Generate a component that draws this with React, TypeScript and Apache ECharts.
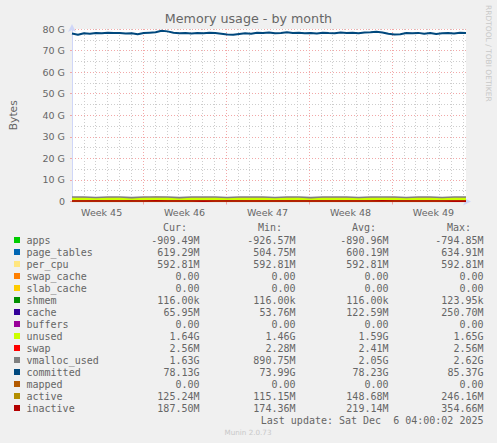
import React, { useEffect, useRef } from 'react';
import * as echarts from 'echarts';

// ============================================================
// Data (values in G, time in days from the left edge)
// ============================================================

const SPAN_DAYS = 33.25;

const WEEK_LABELS = ['Week 45', 'Week 46', 'Week 47', 'Week 48', 'Week 49'];
const WEEK_LABEL_DAYS = [2.5, 9.5, 16.5, 23.5, 30.5];
const WEEK_START_DAYS = [6, 13, 20, 27];

// daily samples (34 points)
const APPS = [
  -0.88, -0.89, -0.9, -0.87, -0.89, -0.91, -0.88, -0.8, -0.86, -0.9,
  -0.89, -0.92, -0.88, -0.85, -0.9, -0.89, -0.91, -0.88, -0.9, -0.87,
  -0.89, -0.92, -0.9, -0.88, -0.89, -0.91, -0.86, -0.93, -0.9, -0.89,
  -0.91, -0.9, -0.89, -0.91,
];
const PAGE_TABLES = [
  0.6, 0.61, 0.59, 0.62, 0.6, 0.58, 0.61, 0.63, 0.6, 0.59,
  0.61, 0.6, 0.62, 0.51, 0.58, 0.6, 0.61, 0.6, 0.59, 0.62,
  0.6, 0.61, 0.6, 0.59, 0.61, 0.6, 0.62, 0.55, 0.59, 0.6,
  0.61, 0.6, 0.62, 0.62,
];
const PER_CPU = [
  0.593, 0.593, 0.593, 0.593, 0.593, 0.593, 0.593, 0.593, 0.593, 0.593,
  0.593, 0.593, 0.593, 0.593, 0.593, 0.593, 0.593, 0.593, 0.593, 0.593,
  0.593, 0.593, 0.593, 0.593, 0.593, 0.593, 0.593, 0.593, 0.593, 0.593,
  0.593, 0.593, 0.593, 0.593,
];
const ZERO = [
  0, 0, 0, 0, 0, 0, 0, 0, 0, 0,
  0, 0, 0, 0, 0, 0, 0, 0, 0, 0,
  0, 0, 0, 0, 0, 0, 0, 0, 0, 0,
  0, 0, 0, 0,
];
const SHMEM = [
  0.000116, 0.000116, 0.000116, 0.000116, 0.000116, 0.000116, 0.000116, 0.000124, 0.000116, 0.000116,
  0.000116, 0.000116, 0.000116, 0.000116, 0.000116, 0.000116, 0.000116, 0.000116, 0.000116, 0.000116,
  0.000116, 0.000116, 0.000116, 0.000116, 0.000116, 0.000116, 0.000116, 0.000116, 0.000116, 0.000116,
  0.000116, 0.000116, 0.000116, 0.000116,
];
const CACHE = [
  0.12, 0.1, 0.14, 0.09, 0.13, 0.18, 0.11, 0.25, 0.15, 0.1,
  0.12, 0.08, 0.13, 0.16, 0.11, 0.09, 0.14, 0.12, 0.1, 0.13,
  0.17, 0.11, 0.09, 0.12, 0.14, 0.1, 0.22, 0.13, 0.11, 0.08,
  0.12, 0.1, 0.07, 0.066,
];
const UNUSED = [
  1.6, 1.58, 1.61, 1.57, 1.6, 1.55, 1.59, 1.48, 1.57, 1.62,
  1.59, 1.61, 1.58, 1.63, 1.6, 1.62, 1.58, 1.6, 1.61, 1.59,
  1.56, 1.6, 1.62, 1.6, 1.58, 1.61, 1.5, 1.62, 1.6, 1.63,
  1.6, 1.62, 1.64, 1.64,
];
const SWAP = [
  0.0023, 0.0023, 0.0024, 0.0024, 0.0024, 0.0024, 0.0024, 0.0024, 0.0024, 0.0024,
  0.0024, 0.0024, 0.0024, 0.0024, 0.0024, 0.0024, 0.0024, 0.0024, 0.0024, 0.0024,
  0.0024, 0.0024, 0.0024, 0.0024, 0.0025, 0.0025, 0.0025, 0.0025, 0.0025, 0.0025,
  0.0025, 0.0025, 0.0026, 0.0026,
];
const VMALLOC_USED = [
  2.1, 2.08, 1.85, 2.1, 2.12, 1.8, 2.09, 2.11, 2.1, 1.78,
  2.12, 2.08, 2.1, 1.82, 2.11, 2.1, 2.09, 1.85, 2.1, 2.12,
  1.8, 2.11, 2.09, 2.1, 1.83, 2.12, 2.1, 2.08, 1.86, 2.1,
  2.11, 1.84, 2.1, 2.08,
];
const ACTIVE = [
  0.14, 0.15, 0.13, 0.16, 0.14, 0.15, 0.13, 0.25, 0.17, 0.14,
  0.15, 0.13, 0.16, 0.15, 0.14, 0.13, 0.15, 0.14, 0.16, 0.15,
  0.14, 0.13, 0.15, 0.16, 0.14, 0.15, 0.21, 0.14, 0.13, 0.15,
  0.14, 0.13, 0.13, 0.125,
];
const INACTIVE = [
  0.21, 0.22, 0.2, 0.23, 0.21, 0.22, 0.2, 0.35, 0.25, 0.21,
  0.22, 0.19, 0.23, 0.22, 0.21, 0.2, 0.22, 0.21, 0.24, 0.22,
  0.21, 0.2, 0.22, 0.23, 0.21, 0.22, 0.3, 0.21, 0.2, 0.22,
  0.21, 0.2, 0.19, 0.19,
];

// half-day samples (67 points)
const COMMITTED = [
  77.9, 77.3, 78.0, 77.8, 78.1, 78.0, 78.3, 78.1, 78.2, 77.9,
  78.0, 77.6, 78.1, 78.3, 78.5, 79.2, 78.9, 78.3, 78.0, 78.2,
  77.9, 78.1, 78.0, 78.3, 78.1, 77.8, 77.5, 77.3, 77.7, 78.0,
  77.8, 78.3, 78.1, 78.4, 78.0, 78.2, 78.5, 78.1, 78.3, 78.0,
  78.2, 77.9, 78.3, 78.1, 78.0, 78.4, 78.2, 78.3, 78.0, 78.4,
  78.5, 78.7, 78.4, 77.8, 77.4, 77.6, 78.1, 78.0, 78.2, 77.8,
  78.1, 77.7, 78.0, 78.2, 77.9, 78.3, 78.1,
];

// legend table
const NAMES = [
  'apps', 'page_tables', 'per_cpu', 'swap_cache', 'slab_cache', 'shmem', 'cache', 'buffers',
  'unused', 'swap', 'vmalloc_used', 'committed', 'mapped', 'active', 'inactive',
];
const COLORS = [
  '#00CC00', '#0066B3', '#FFE680', '#FF8000', '#FFCC00', '#008F00', '#330099', '#990099',
  '#CCFF00', '#FF0000', '#808080', '#00487D', '#B35A00', '#B38F00', '#B30000',
];
const CUR = [
  '-909.49M', '619.29M', '592.81M', '0.00', '0.00', '116.00k', '65.95M', '0.00',
  '1.64G', '2.56M', '1.63G', '78.13G', '0.00', '125.24M', '187.50M',
];
const MIN = [
  '-926.57M', '504.75M', '592.81M', '0.00', '0.00', '116.00k', '53.76M', '0.00',
  '1.46G', '2.28M', '890.75M', '73.99G', '0.00', '115.15M', '174.36M',
];
const AVG = [
  '-890.96M', '600.19M', '592.81M', '0.00', '0.00', '116.00k', '122.59M', '0.00',
  '1.59G', '2.41M', '2.05G', '78.23G', '0.00', '148.68M', '219.14M',
];
const MAX = [
  '-794.85M', '634.91M', '592.81M', '0.00', '0.00', '123.95k', '250.70M', '0.00',
  '1.65G', '2.56M', '2.62G', '85.37G', '0.00', '246.16M', '354.66M',
];
const HEADERS = ['Cur:', 'Min:', 'Avg:', 'Max:'];

// stacked (AREA + STACK) in drawing order, then plain lines
const STACK_VALUES = [APPS, PAGE_TABLES, PER_CPU, ZERO, ZERO, SHMEM, CACHE, ZERO, UNUSED, SWAP];
const LINE_VALUES: Record<string, number[]> = {
  vmalloc_used: VMALLOC_USED,
  mapped: ZERO,
  active: ACTIVE,
  inactive: INACTIVE,
};

// ============================================================
// Helpers
// ============================================================

const DAILY_TIMES = Array.from({ length: APPS.length }, (_, i) => (i * SPAN_DAYS) / (APPS.length - 1));
const HALF_DAY_TIMES = Array.from({ length: COMMITTED.length }, (_, i) => (i * SPAN_DAYS) / (COMMITTED.length - 1));

const pairs = (times: number[], values: number[]) => values.map((v, i) => [times[i], v]);

const FONT = 'DejaVu Sans';
const MONO = 'DejaVu Sans Mono';
const TEXT = '#666666';
const MGRID = '#F2A8A8';
const GRID = '#CDCDCD';

const buildOption = (): echarts.EChartsOption => {
  // slots of a quarter day for the week grid / labels
  const slots = Array.from({ length: SPAN_DAYS * 4 + 1 }, (_, i) => String(i));
  const labelSlots = WEEK_LABEL_DAYS.map((d) => d * 4);
  const weekSlots = WEEK_START_DAYS.map((d) => d * 4);

  // cumulative stack, drawn top-down so each lower band covers the rest
  const cumulative: number[][] = [];
  STACK_VALUES.forEach((vals, k) => {
    cumulative.push(vals.map((v, i) => v + (k > 0 ? cumulative[k - 1][i] : 0)));
  });
  const areaSeries: any[] = [];
  for (let k = STACK_VALUES.length - 1; k >= 0; k--) {
    areaSeries.push({
      name: NAMES[k],
      type: 'line',
      xAxisIndex: 0,
      data: pairs(DAILY_TIMES, cumulative[k]),
      symbol: 'none',
      lineStyle: { width: 0 },
      areaStyle: { color: COLORS[k], opacity: 1 },
    });
  }

  const lineSeries: any[] = Object.keys(LINE_VALUES).map((name) => ({
    name,
    type: 'line',
    xAxisIndex: 0,
    data: pairs(DAILY_TIMES, LINE_VALUES[name]),
    symbol: 'none',
    lineStyle: { color: COLORS[NAMES.indexOf(name)], width: 1.6 },
  }));
  lineSeries.splice(1, 0, {
    name: 'committed',
    type: 'line',
    xAxisIndex: 0,
    data: pairs(HALF_DAY_TIMES, COMMITTED),
    symbol: 'none',
    lineStyle: { color: COLORS[NAMES.indexOf('committed')], width: 2 },
  });

  // legend table
  const graphic: any[] = [];
  const colRight = [199.5, 295.5, 388.5, 483.5];
  const headLeft = [163, 258, 352, 447];
  HEADERS.forEach((h, c) => {
    graphic.push({
      type: 'text',
      style: { text: h, x: headLeft[c], y: 227, font: `10px "${MONO}"`, fill: TEXT, verticalAlign: 'middle' },
    });
  });
  NAMES.forEach((name, r) => {
    const y = 240 + r * 12;
    graphic.push({ type: 'rect', shape: { x: 14, y: y - 3, width: 6, height: 6 }, style: { fill: COLORS[r] } });
    graphic.push({
      type: 'text',
      style: { text: name, x: 26.5, y, font: `10px "${MONO}"`, fill: TEXT, verticalAlign: 'middle' },
    });
    [CUR, MIN, AVG, MAX].forEach((col, c) => {
      graphic.push({
        type: 'text',
        style: { text: col[r], x: colRight[c], y, font: `10px "${MONO}"`, fill: TEXT, align: 'right', verticalAlign: 'middle' },
      });
    });
  });
  graphic.push({
    type: 'text',
    style: {
      text: 'Last update: Sat Dec  6 04:00:02 2025',
      x: 483.5, y: 420, font: `10px "${MONO}"`, fill: TEXT, align: 'right', verticalAlign: 'middle',
    },
  });
  graphic.push({
    type: 'text',
    style: { text: 'Munin 2.0.73', x: 248, y: 432, font: `7.2px "${FONT}"`, fill: '#C8C8C8', align: 'center', verticalAlign: 'middle' },
  });
  graphic.push({
    type: 'text',
    x: 488,
    y: 5,
    rotation: -Math.PI / 2,
    style: { text: 'RRDTOOL / TOBI OETIKER', x: 0, y: 0, font: `7.5px "${FONT}"`, fill: '#C8C8C8', align: 'left', verticalAlign: 'middle' },
  });

  return {
    animation: false,
    backgroundColor: '#F0F0F0',
    title: {
      text: 'Memory usage - by month',
      left: 'center',
      top: 12,
      padding: 0,
      textStyle: { fontFamily: FONT, fontSize: 12.7, fontWeight: 'normal', color: TEXT },
    },
    grid: {
      left: 67,
      top: 29,
      width: 399,
      height: 172.5,
      show: true,
      backgroundColor: '#FFFFFF',
      borderWidth: 0,
    },
    xAxis: [
      {
        type: 'value',
        position: 'top',
        min: 0,
        max: SPAN_DAYS,
        interval: 1,
        axisLine: { show: false },
        axisTick: { show: false },
        axisLabel: { show: false },
        splitLine: {
          show: true,
          showMinLine: false,
          showMaxLine: false,
          lineStyle: { color: GRID, type: [1, 2], width: 1 },
        },
      },
      {
        type: 'category',
        position: 'bottom',
        boundaryGap: false,
        data: slots,
        axisLine: {
          show: true,
          lineStyle: { color: '#CFD6F8', width: 1 },
          symbol: ['none', 'arrow'],
          symbolSize: [6, 8],
          symbolOffset: [0, 5],
        },
        axisTick: {
          show: true,
          length: 3,
          interval: (i: number) => weekSlots.includes(i),
          lineStyle: { color: MGRID },
        },
        axisLabel: {
          interval: (i: number) => labelSlots.includes(i),
          formatter: (_v: string, i: number) => {
            const k = labelSlots.indexOf(i);
            return k >= 0 ? WEEK_LABELS[k] : '';
          },
          color: TEXT,
          fontFamily: FONT,
          fontSize: 9.5,
          margin: 6,
        },
        splitLine: {
          show: true,
          interval: (i: number) => weekSlots.includes(i),
          lineStyle: { color: MGRID, type: [1, 2], width: 1 },
        },
      },
    ],
    yAxis: {
      type: 'value',
      min: 0,
      max: 80,
      interval: 10,
      name: 'Bytes',
      nameLocation: 'middle',
      nameRotate: 90,
      nameGap: 53,
      nameTextStyle: { fontFamily: FONT, fontSize: 10.7, color: TEXT },
      axisLine: {
        show: true,
        lineStyle: { color: '#CFD6F8', width: 1 },
        symbol: ['none', 'arrow'],
        symbolSize: [6, 8],
        symbolOffset: [0, 5],
      },
      axisTick: { show: true, length: 2, lineStyle: { color: MGRID } },
      axisLabel: {
        formatter: (v: number) => (v === 0 ? '0' : `${v} G`),
        color: TEXT,
        fontFamily: FONT,
        fontSize: 9.5,
        margin: 7,
      },
      splitLine: { show: true, lineStyle: { color: MGRID, type: [1, 2], width: 1 } },
      minorTick: { show: false, splitNumber: 2 },
      minorSplitLine: { show: true, lineStyle: { color: GRID, type: [1, 2], width: 1 } },
    },
    series: [...areaSeries, ...lineSeries],
    graphic,
  };
};

// ============================================================
// Component
// ============================================================

const App: React.FC = () => {
  const chartRef = useRef<HTMLDivElement>(null);

  useEffect(() => {
    if (!chartRef.current) return;
    const chart = echarts.init(chartRef.current, undefined, { renderer: 'svg' });
    chart.setOption(buildOption());
    return () => {
      chart.dispose();
    };
  }, []);

  return (
    <div
      ref={chartRef}
      style={{ position: 'fixed', left: 0, top: 0, width: 497, height: 443, background: '#F0F0F0' }}
    />
  );
};

export default App;
